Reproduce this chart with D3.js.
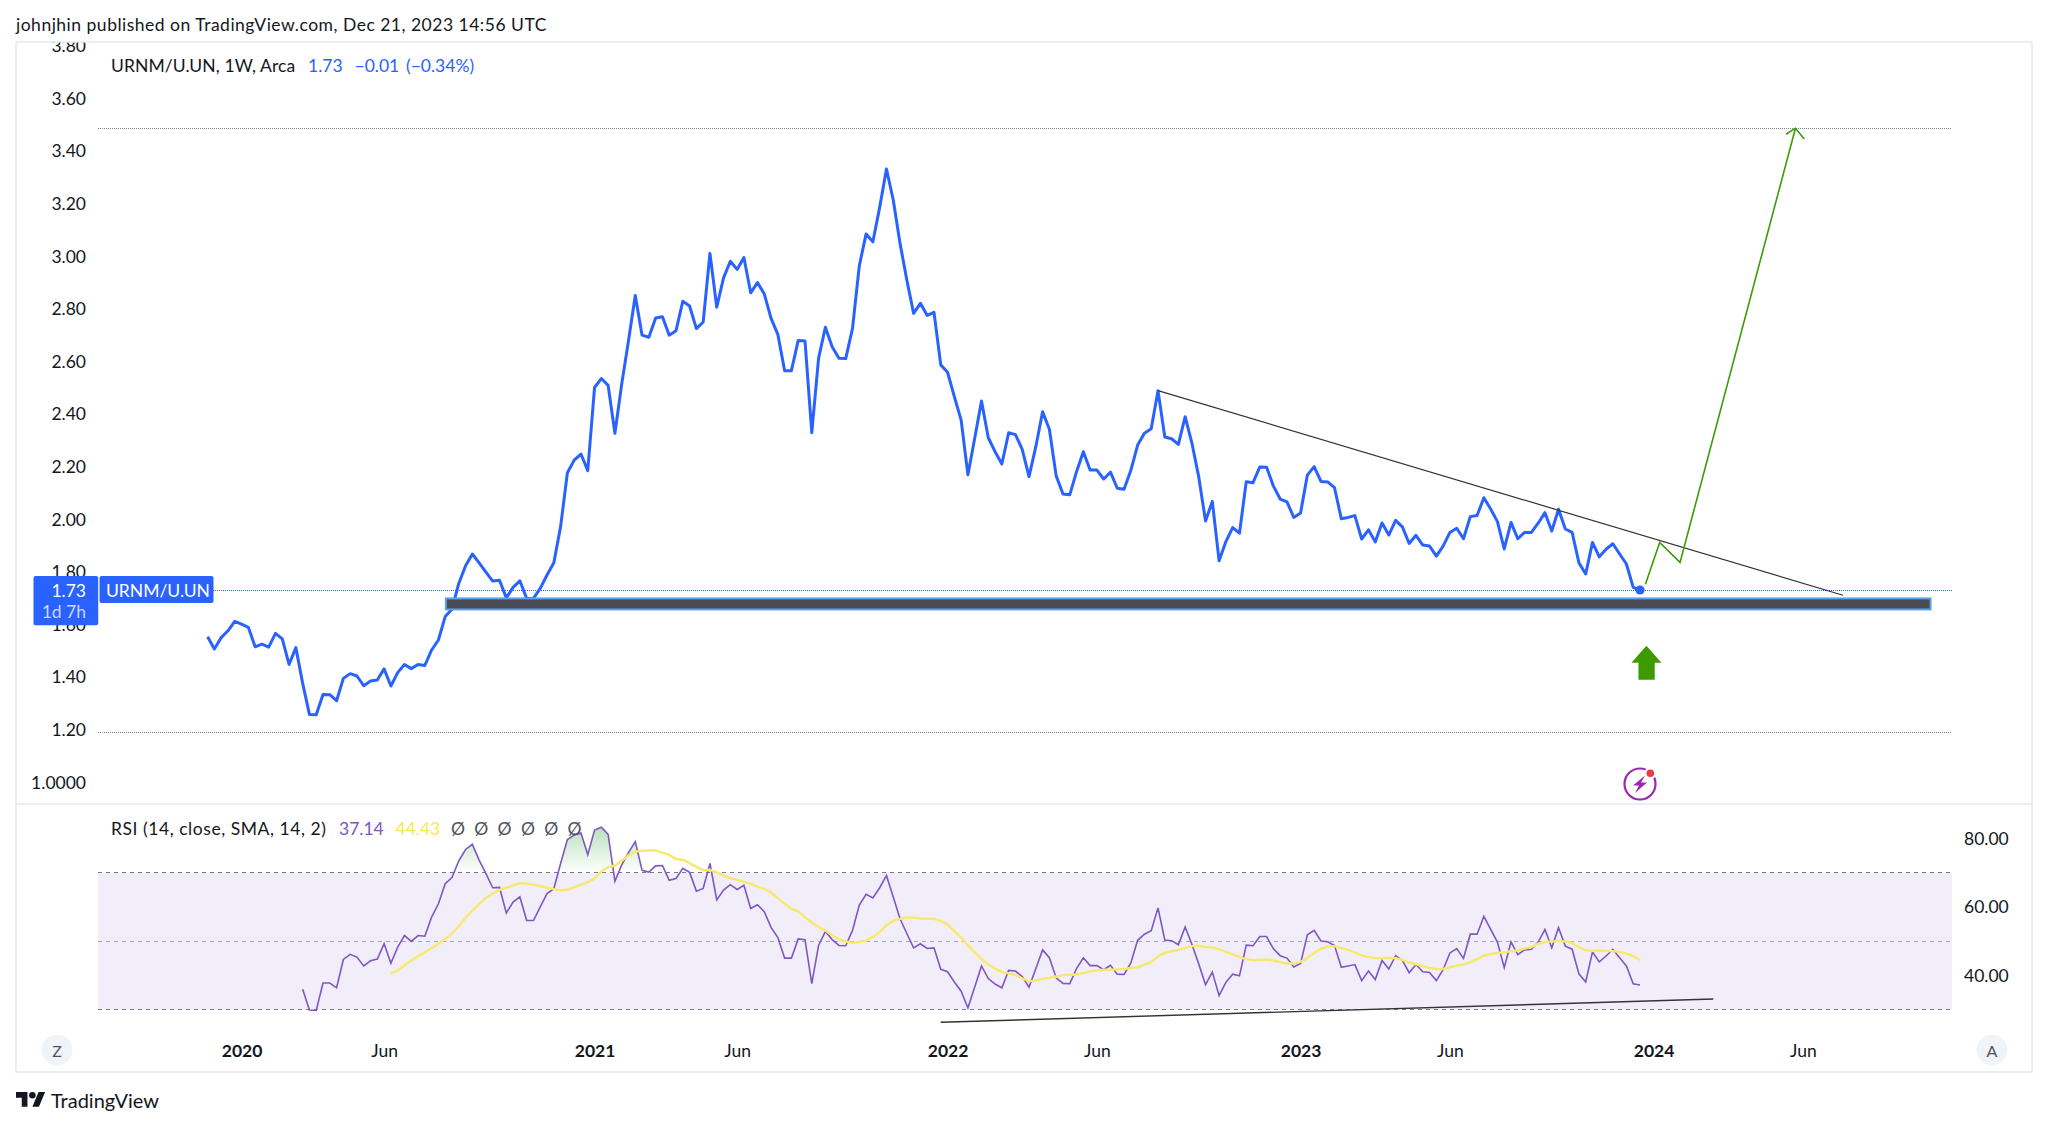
<!DOCTYPE html>
<html><head><meta charset="utf-8">
<script src="https://cdnjs.cloudflare.com/ajax/libs/d3/7.8.5/d3.min.js"></script>
<style>
html,body{margin:0;padding:0;background:#fff}
svg{display:block}
text{font-family:Lato,"Open Sans",sans-serif;fill:#131722}
</style></head><body><svg id="c" width="2048" height="1126"></svg>
<script>
const priceTicks=[1,1.2,1.4,1.6,1.8,2,2.2,2.4,2.6,2.8,3,3.2,3.4,3.6,3.8];
const rsiTicks=[40,60,80];
const timeTicks=[5,26,57,78,109,131,161,183,213,235];
const timeLabels=["2020","Jun","2021","Jun","2022","Jun","2023","Jun","2024","Jun"];
const yearLabels=["2020","2021","2022","2023","2024"];
const rsiStart=14, maStart=27;
const price=[1.552,1.506,1.549,1.575,1.611,1.6,1.588,1.514,1.524,1.513,
1.565,1.544,1.447,1.511,1.376,1.257,1.256,1.333,1.332,1.309,
1.394,1.412,1.403,1.366,1.384,1.388,1.43,1.365,1.416,1.447,
1.431,1.447,1.443,1.502,1.54,1.629,1.657,1.755,1.822,1.867,
1.833,1.798,1.764,1.767,1.70,1.74,1.765,1.698,1.698,1.736,
1.787,1.834,1.971,2.176,2.224,2.247,2.184,2.50,2.534,2.508,
2.326,2.513,2.678,2.85,2.699,2.691,2.764,2.769,2.699,2.716,
2.828,2.81,2.724,2.749,3.01,2.805,2.917,2.98,2.949,2.994,
2.86,2.899,2.856,2.763,2.702,2.564,2.564,2.679,2.677,2.328,
2.611,2.729,2.655,2.611,2.61,2.725,2.963,3.084,3.054,3.185,
3.331,3.213,3.048,2.909,2.782,2.82,2.774,2.786,2.586,2.558,
2.465,2.376,2.168,2.307,2.449,2.309,2.256,2.209,2.328,2.321,
2.265,2.161,2.275,2.408,2.341,2.164,2.095,2.092,2.18,2.256,
2.186,2.186,2.152,2.178,2.117,2.113,2.185,2.281,2.326,2.343,
2.488,2.312,2.305,2.284,2.389,2.288,2.16,1.992,2.067,1.841,
1.914,1.967,1.946,2.142,2.138,2.198,2.197,2.125,2.076,2.065,
2.006,2.023,2.167,2.199,2.143,2.141,2.119,2.001,2.006,2.013,
1.924,1.959,1.913,1.985,1.939,1.995,1.97,1.907,1.938,1.901,
1.897,1.859,1.897,1.949,1.965,1.925,2.009,2.013,2.081,2.038,
1.99,1.886,1.987,1.925,1.949,1.949,1.984,2.024,1.954,2.037,
1.962,1.949,1.834,1.791,1.911,1.856,1.885,1.906,1.867,1.829,
1.74,1.73];
const rsi=[35.9,29.8,29.7,37.7,37.7,36.3,
44.6,46.1,45.3,42.7,44.2,44.7,49.2,43.5,48.2,51.6,
49.9,51.6,51.4,57,60.9,66.8,68.6,73.5,76.8,78.3,
73.7,69.7,65.6,65.7,58.2,61.4,62.9,56,56,60,
63.9,65.3,72.7,79.7,81,81.6,75.3,82.5,83.3,81.2,
67.5,72.3,75.9,79.1,70.7,70.2,72,72.1,67.8,68.3,
71.3,70.1,64.6,65.4,72.7,62,64.9,66.5,65.1,66.3,
59.5,60.6,58.6,54,51,45,45,50.6,50.4,37.5,
48.7,52.8,50.4,48.7,48.6,53.1,60.5,63.7,62.6,65.6,
69.2,62.9,56.5,52.2,48,49.2,47.8,48,41.7,41,
38,35.3,30.4,36.5,42.7,39,37.4,36.3,41.4,41.2,
39.6,36.5,41.9,47.4,45.1,39.2,37.6,37.5,41.9,45.1,
42.8,42.8,41.6,42.9,40.3,40.2,43.6,50.2,52,53,
59.7,50.3,50.1,48.9,54.1,49,43.3,37.2,40.9,34,
37.9,40.3,39.8,48.8,48.6,51.3,51.3,47.7,45.7,45,
42.4,43.4,51.8,53.1,50,49.8,48.7,42.3,42.7,43.1,
38.4,41.2,38.7,44.3,41.8,45.7,44.3,40.7,43.1,41,
40.8,38.4,41.6,46.5,47.8,44.9,52,52,57.2,53.4,
49.7,42.2,49.7,46,47.4,47.6,49.7,53.4,48,53.9,
48.5,47.6,40.4,38,46.8,43.9,45.6,47.5,45.1,42.7,
37.5,37.14];
const rsiMa=[40.5,41.3,42.9,
44.3,45.5,46.7,47.9,49.2,50.6,52.2,54.3,56.8,59,
60.8,62.6,63.9,65,65.6,66.3,66.9,66.8,66.5,66.1,
65.6,65.2,64.9,65,65.7,66.5,67.2,68.3,70.4,71.6,
72.1,73.5,75.1,76.2,76.4,76.5,76.5,75.9,75.2,74,
73.8,72.8,71.7,70.7,70.8,70.1,69.2,68.4,67.9,67.4,
66.7,65.9,65.3,64.2,62.5,60.9,59.4,58.7,57,55.4,
54.1,53.1,51.7,50.5,49.8,49.5,49.7,50.1,51.2,52.6,
54.6,55.9,56.5,56.9,56.9,56.6,56.5,56.5,55.8,54.8,
52.9,51,48.7,46.7,44.8,43.1,41.9,40.9,40.5,40.1,
39.1,38.2,38.4,38.9,39.2,39.6,40,40.1,40.2,40.6,
41.1,41.4,41.6,41.6,41.7,41.8,42.1,42.3,43.1,43.8,
45.5,46.5,47,47.4,48,48.5,48.6,48.2,48.1,47.6,
46.8,46.1,45.3,44.7,44.4,44.5,44.6,44.3,43.8,43.4,
43.4,43.9,45,46.5,47.7,48.4,48.5,47.9,47.4,46.7,
45.8,45.3,45,45,45.1,45,44.5,43.7,43.2,42.6,
42.1,41.8,41.8,42.3,42.8,43.1,43.8,44.7,45.7,46.2,
46.5,46.7,47,47.3,47.8,48.2,49.2,49.7,49.9,49.9,
49.9,49.5,48.2,47.3,47.1,47.2,47.1,47,46.8,46.4,
45.6,44.43];
const levelTop=3.485, levelBottom=1.19, lastPrice=1.73;
const zoneRange=[35.1,253.8], zoneValues=[1.698,1.656];
const trendPrice=[[140,2.488],[240.9,1.71]];
const trendRsi=[[108,26.2],[221.8,33]];
const projection=[[211.8,1.752],[213.9,1.911],[216.9,1.835],[233.9,3.486]];
const projectionHead=[[232.5,3.463],[233.9,3.486],[235.2,3.445]];
const arrowAt=[211.8,1.453];
const rsiLevels=[70,50,30];
const legendMarks=["Ø","Ø","Ø","Ø","Ø","Ø"];

const svg=d3.select("#c");
const fs=17.5;
const x=d3.scaleLinear().domain([0,211]).range([207.6,1640]);
const y=d3.scaleLinear().domain([1,3.8]).range([782,45.6]);
const yR=d3.scaleLinear().domain([30,70]).range([1009.3,872.7]);
const left=98,right=1952,fl=16,fr=2032,ft=42,fb=1072,sep=804;
const crisp=v=>Math.floor(v)+.5;

const defs=svg.append("defs");
defs.append("clipPath").attr("id","mainClip").append("rect").attr("x",fl).attr("y",ft).attr("width",fr-fl).attr("height",sep-ft);
defs.append("clipPath").attr("id","obClip").append("rect").attr("x",left).attr("y",sep).attr("width",right-left).attr("height",yR(70)-sep);
const g=defs.append("linearGradient").attr("id","ob").attr("gradientUnits","userSpaceOnUse")
 .attr("x1",0).attr("x2",0).attr("y1",yR(83)).attr("y2",yR(70));
g.append("stop").attr("offset",0).attr("stop-color","#4caf50").attr("stop-opacity",.38);
g.append("stop").attr("offset",1).attr("stop-color","#4caf50").attr("stop-opacity",0);

// header
svg.append("text").attr("x",16).attr("y",24).attr("dominant-baseline","central").attr("font-size",fs).attr("letter-spacing",.5).text("johnjhin published on TradingView.com, Dec 21, 2023 14:56 UTC");

// main pane
const main=svg.append("g").attr("clip-path","url(#mainClip)");
const yAxis=d3.axisLeft(y).tickValues(priceTicks).tickSize(0).tickPadding(12)
 .tickFormat(d=>d===1?"1.0000":d3.format(".2f")(d));
const ya=main.append("g").attr("transform",`translate(${left},0)`).call(yAxis);
ya.select(".domain").remove();
ya.selectAll("text").attr("font-size",fs).attr("font-family","Lato").attr("fill","#131722").attr("dy","0.35em");

[levelTop,levelBottom].forEach(v=>main.append("line").attr("x1",left).attr("x2",right).attr("y1",crisp(y(v))).attr("y2",crisp(y(v)))
 .attr("stroke","#7d808a").attr("stroke-width",1).attr("stroke-dasharray","1 1").attr("shape-rendering","crispEdges"));
main.append("line").attr("x1",213).attr("x2",right).attr("y1",crisp(y(lastPrice))).attr("y2",crisp(y(lastPrice)))
 .attr("stroke","#2962ff").attr("stroke-width",1).attr("stroke-dasharray","1 1").attr("shape-rendering","crispEdges");

const line=d3.line().x(d=>x(d[0])).y(d=>y(d[1]));
const pts=price.map((v,i)=>[i,v]);
main.append("path").attr("d",line(pts)).attr("fill","none").attr("stroke","#2962ff").attr("stroke-width",3).attr("stroke-linejoin","round");

// drawings
main.append("rect").attr("x",x(zoneRange[0])).attr("width",x(zoneRange[1])-x(zoneRange[0]))
 .attr("y",y(zoneValues[0])).attr("height",y(zoneValues[1])-y(zoneValues[0]))
 .attr("fill","#4a4b55").attr("stroke","#5aa0ea").attr("stroke-width",2);
main.append("path").attr("d",line(trendPrice)).attr("fill","none").attr("stroke","#333").attr("stroke-width",1.2);
main.append("path").attr("d",line(projection)).attr("fill","none").attr("stroke","#3d9a0c").attr("stroke-width",1.6);
main.append("path").attr("d",line(projectionHead)).attr("fill","none").attr("stroke","#3d9a0c").attr("stroke-width",1.6);
main.append("circle").attr("cx",x(211)).attr("cy",y(lastPrice)).attr("r",4.6).attr("fill","#2962ff");

const ax=x(arrowAt[0]), ay=y(arrowAt[1]);
main.append("path").attr("transform",`translate(${ax+1},${ay})`)
 .attr("d","M0,-17 L15,0 L8.3,0 L8.3,17 L-8,17 L-8,0 L-15,0 Z").attr("fill","#3e9a00");

// flash icon
const fx=x(211), fy=784;
const flash=main.append("g").attr("transform",`translate(${fx},${fy})`);
flash.append("circle").attr("r",15.5).attr("fill","#fff").attr("stroke","#9c27b0").attr("stroke-width",2.2);
flash.append("circle").attr("cx",10.3).attr("cy",-10.7).attr("r",6).attr("fill","#fff");
flash.append("circle").attr("cx",10.3).attr("cy",-10.7).attr("r",3.8).attr("fill","#f23645");
flash.append("path").attr("d","M5,-8.5 L-7,1.5 L-1,1.5 L-5,9 L7,-1.5 L1,-1.5 Z").attr("fill","#9c27b0");

// price labels
svg.append("rect").attr("x",33.5).attr("y",y(lastPrice)-14).attr("width",64.7).attr("height",49.3).attr("rx",2).attr("fill","#2962ff");
svg.append("rect").attr("x",99.5).attr("y",y(lastPrice)-14).attr("width",114).attr("height",27).attr("rx",2).attr("fill","#2962ff");
svg.append("text").attr("x",86).attr("y",y(lastPrice)).attr("text-anchor","end").attr("dominant-baseline","central").attr("font-size",fs).style("fill","#fff").text(lastPrice.toFixed(2));
svg.append("text").attr("x",86).attr("y",y(lastPrice)+21.5).attr("text-anchor","end").attr("dominant-baseline","central").attr("font-size",fs).style("fill","#c9d8ff").text("1d 7h");
svg.append("text").attr("x",106).attr("y",y(lastPrice)).attr("dominant-baseline","central").attr("font-size",fs).style("fill","#fff").text("URNM/U.UN");

// legends
svg.append("text").attr("x",111).attr("y",65.7).attr("dominant-baseline","central").attr("font-size",fs).attr("letter-spacing",.1).text("URNM/U.UN, 1W, Arca");
[[308,"1.73"],[354.5,"−0.01"],[406,"(−0.34%)"]].forEach(d=>svg.append("text").attr("x",d[0]).attr("y",65.7).attr("dominant-baseline","central").attr("font-size",fs).style("fill","#2962ff").text(d[1]));

// RSI pane
const rp=svg.append("g");
rp.append("rect").attr("x",left).attr("width",right-left).attr("y",yR(70)).attr("height",yR(30)-yR(70)).attr("fill","#7e57c2").attr("opacity",.1);
rsiLevels.forEach((l,i)=>rp.append("line").attr("x1",left).attr("x2",right).attr("y1",crisp(yR(l))).attr("y2",crisp(yR(l)))
 .attr("stroke",i===1?"#a4a6ae":"#787b86").attr("stroke-width",1).attr("stroke-dasharray","4 4").attr("shape-rendering","crispEdges"));
const rPts=rsi.map((v,i)=>[i+rsiStart,v]);
const mPts=rsiMa.map((v,i)=>[i+maStart,v]);
const rl=d3.line().x(d=>x(d[0])).y(d=>yR(d[1]));
rp.append("path").attr("clip-path","url(#obClip)")
 .attr("d",d3.area().x(d=>x(d[0])).y0(yR(70)).y1(d=>yR(d[1]))(rPts)).attr("fill","url(#ob)");
rp.append("path").attr("d",rl(rPts)).attr("fill","none").attr("stroke","#7e57c2").attr("stroke-width",1.6);
rp.append("path").attr("d",rl(mPts)).attr("fill","none").attr("stroke","#f6e96b").attr("stroke-width",2.4);
rp.append("path").attr("d",rl(trendRsi)).attr("fill","none").attr("stroke","#333").attr("stroke-width",1.4);

const yra=rp.append("g").attr("transform",`translate(${right},0)`)
 .call(d3.axisRight(yR).tickValues(rsiTicks).tickSize(0).tickPadding(12).tickFormat(d3.format(".2f")));
yra.select(".domain").remove();
yra.selectAll("text").attr("font-size",fs).attr("font-family","Lato").attr("fill","#131722").attr("dy","0.35em");

const ly=828.7;
svg.append("text").attr("x",111).attr("y",ly).attr("dominant-baseline","central").attr("font-size",fs).attr("letter-spacing",.55).text("RSI (14, close, SMA, 14, 2)");
svg.append("text").attr("x",339).attr("y",ly).attr("dominant-baseline","central").attr("font-size",fs).style("fill","#7e57c2").text(rsi[rsi.length-1].toFixed(2));
svg.append("text").attr("x",395.5).attr("y",ly).attr("dominant-baseline","central").attr("font-size",fs).style("fill","#f7e94b").text(rsiMa[rsiMa.length-1].toFixed(2));
legendMarks.forEach((m,i)=>svg.append("text").attr("x",451+i*23.3).attr("y",ly).attr("dominant-baseline","central").attr("font-size",fs).style("fill","#50535e").text(m));

// time axis
const xa=svg.append("g").attr("transform","translate(0,1051)")
 .call(d3.axisBottom(x).tickValues(timeTicks).tickSize(0).tickPadding(0).tickFormat((d,i)=>timeLabels[i]));
xa.select(".domain").remove();
xa.selectAll("text").attr("font-size",fs).attr("font-family","Lato").attr("fill","#131722").attr("y",0).attr("dy","0.35em")
 .attr("font-weight",function(){return yearLabels.includes(this.textContent)?700:400;});

// frame
svg.append("rect").attr("x",fl).attr("y",ft).attr("width",fr-fl).attr("height",fb-ft).attr("fill","none").attr("stroke","#e6e8ee").attr("stroke-width",1.5);
svg.append("line").attr("x1",fl).attr("x2",fr).attr("y1",sep).attr("y2",sep).attr("stroke","#e6e8ee").attr("stroke-width",1.5);

// buttons
[[57,"Z"],[1992,"A"]].forEach(d=>{
 svg.append("circle").attr("cx",d[0]).attr("cy",1050).attr("r",15.5).attr("fill","#f0f3fa");
 svg.append("text").attr("x",d[0]).attr("y",1050).attr("text-anchor","middle").attr("dominant-baseline","central").attr("font-size",16).style("fill","#50535e").text(d[1]);
});

// footer
const logo=svg.append("g").attr("transform","translate(16,1088.7) scale(.82)").attr("fill","#131722");
logo.append("path").attr("d","M14 22H7V11H0V4h14v18zM28 22h-8l7.5-18h8L28 22z");
logo.append("circle").attr("cx",20).attr("cy",8).attr("r",4);
svg.append("text").attr("x",51).attr("y",1100).attr("dominant-baseline","central").attr("font-size",20).text("TradingView");
</script></body></html>
